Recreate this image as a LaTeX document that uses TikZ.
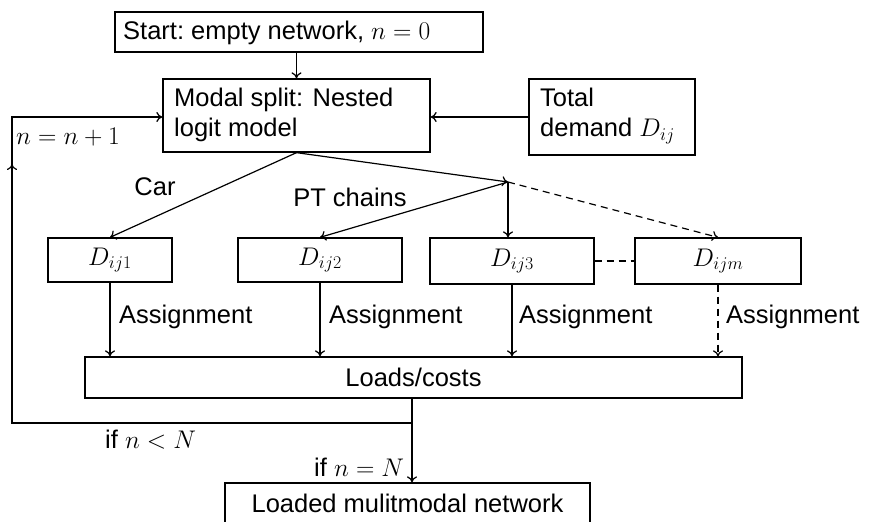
\RequirePackage{fix-cm}
\documentclass[tikz,border=0pt]{standalone}
\usepackage{fontspec}
\setmainfont{Liberation Sans}
\usetikzlibrary{arrows.meta}
\begin{document}
\begin{tikzpicture}[x=1pt,y=-1pt,
  every node/.style={font=\fontsize{25.5}{30}\selectfont},
  box/.style={draw,line width=1.3pt,inner sep=0pt},
  lbl/.style={inner sep=0pt},
  arr/.style={line width=1.2pt,-{To[length=6pt,width=10pt]}},
  dsh/.style={dashed,dash pattern=on 7pt off 5pt}]
\useasboundingbox (0,0) rectangle (870,522);
\node[box,minimum width=368pt,minimum height=40pt] (start) at (299,32) {};
\node[lbl,anchor=west] at (123,33) {Start:~empty network, $n=0$};
\node[box,minimum width=267pt,minimum height=73pt] (modal) at (296.5,115.5) {};
\node[lbl,anchor=west,align=left] at (174,115) {Modal split: Nested\\logit model};
\node[box,minimum width=166pt,minimum height=76pt] (total) at (612,117) {};
\node[lbl,anchor=west,align=left] at (540,116) {Total\\demand $D_{ij}$};
\node[box,minimum width=124pt,minimum height=44pt] (d1) at (110,260) {$D_{ij1}$};
\node[box,minimum width=164pt,minimum height=44pt] (d2) at (320,260) {$D_{ij2}$};
\node[box,minimum width=164pt,minimum height=46pt] (d3) at (512,261) {$D_{ij3}$};
\node[box,minimum width=166pt,minimum height=46pt] (dm) at (718,261) {$D_{ijm}$};
\node[box,minimum width=657pt,minimum height=41pt] (loads) at (413.5,377.5) {Loads/costs};
\node[box,minimum width=365pt,minimum height=40pt] (loaded) at (407.5,503) {Loaded mulitmodal network};
\coordinate (br) at (508,182);
\coordinate (lb) at (412,423);
\coordinate (lc) at (12,423);
\coordinate (lt) at (12,117);
% labels
\node[lbl] (car) at (155,187) {Car};
\node[lbl] (pt) at (350,197) {PT chains};
\node[lbl,anchor=west] (inc) at (16,137) {$n=n+1$};
\node[lbl,anchor=west] (lt1) at (105,440) {if $n<N$};
\node[lbl,anchor=west] (eq1) at (314,467) {if $n=N$};
\node[lbl,anchor=west] (a1) at (119,317) {Assignment};
\node[lbl,anchor=west] (a2) at (329,317) {Assignment};
\node[lbl,anchor=west] (a3) at (519,317) {Assignment};
\node[lbl,anchor=west] (a4) at (726,317) {Assignment};
% connectors
\draw[arr] (start.south -| modal.north) -- (modal.north);
\draw[arr] (total.west) -- (modal.east |- total.west);
\draw[arr] (modal.south) -- (d1.north);
\draw[arr] (modal.south) -- (br);
\draw[arr] (br) -- (d2.north);
\draw[arr] (br) -- (br |- d3.north);
\draw[arr,dsh] (br) -- (dm.north);
\draw[line width=1.2pt,dsh] (d3.east) -- (dm.west);
\draw[arr] (d1.south) -- (d1.south |- loads.north);
\draw[arr] (d2.south) -- (d2.south |- loads.north);
\draw[arr] (d3.south) -- (d3.south |- loads.north);
\draw[arr,dsh] (dm.south) -- (dm.south |- loads.north);
\draw[line width=1.2pt] (loads.south -| lb) -- (lb) -- (lc) -- (12,165);
\draw[arr] (12,190) -- (12,164);
\draw[arr] (12,165) -- (lt) -- (lt -| modal.west);
\draw[arr] (lb) -- (lb |- loaded.north);
\end{tikzpicture}
\end{document}
